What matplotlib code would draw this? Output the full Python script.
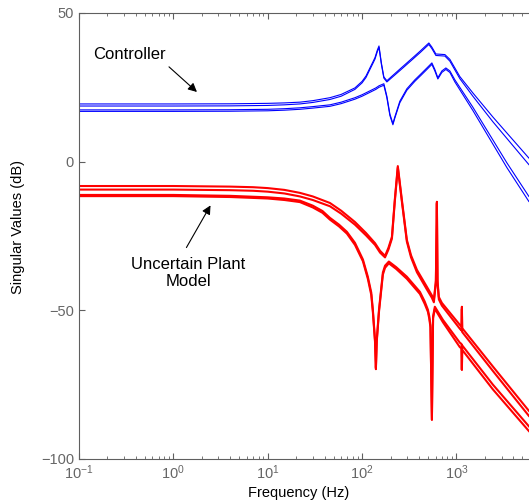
"""
Singular value plot of the controller and the uncertain plant model.
Values read off the reference figure (dB vs Hz).
"""

import numpy as np
import matplotlib.pyplot as plt

########################################################
# DATA

# Controller, upper pair of singular values
ctrl_a_freq = [0.1, 1, 4, 10, 15, 21.9, 30, 45.6, 60, 84, 100, 110, 121, 130, 137, 145, 151, 160, 170, 183,
               251, 321, 410, 486, 510, 549, 605, 680, 754, 851, 1086, 1492, 2432, 5850]
ctrl_a1_db = [19.4, 19.4, 19.45, 19.6, 19.75, 20.0, 20.5, 21.5, 22.6, 24.8, 27.0, 28.8, 31.5, 33.5, 35.0, 37.5, 38.9, 33.2, 28.5, 27.2,
              31.1, 34.1, 37.1, 39.3, 39.9, 38.5, 36.2, 36.1, 36.0, 34.4, 28.6, 23.1, 15.0, 1.2]
ctrl_a2_db = [18.7, 18.7, 18.75, 18.9, 19.1, 19.4, 19.9, 20.9, 22.0, 24.3, 26.5, 28.3, 31.0, 33.0, 34.5, 37.0, 38.4, 32.8, 28.1, 26.8,
              30.6, 33.6, 36.6, 38.8, 39.4, 38.0, 35.7, 35.6, 35.5, 33.8, 27.9, 22.0, 13.4, -1.0]

# Controller, lower pair of singular values
ctrl_b_freq = [0.1, 1, 4, 10, 15, 21.9, 30, 45.6, 60, 84, 100, 121, 140, 151, 170, 183, 197, 212, 222, 251,
               298, 362, 420, 486, 549, 590, 635, 700, 772, 851, 962, 1492, 3420, 5850]
ctrl_b1_db = [17.4, 17.4, 17.45, 17.6, 17.8, 18.1, 18.5, 19.1, 20.0, 21.5, 22.5, 23.8, 24.8, 25.5, 26.2, 22.0, 16.0, 12.8, 15.0, 20.3,
              24.5, 27.5, 29.5, 31.5, 33.2, 31.0, 28.2, 30.5, 31.5, 30.5, 27.5, 18.3, -0.4, -11.7]
ctrl_b2_db = [16.9, 16.9, 16.95, 17.1, 17.3, 17.6, 18.0, 18.6, 19.5, 21.0, 22.0, 23.3, 24.3, 25.0, 25.7, 21.5, 15.5, 12.4, 14.6, 19.8,
              24.0, 27.0, 29.0, 31.0, 32.7, 30.5, 27.8, 30.0, 31.0, 30.0, 26.8, 17.2, -2.0, -13.4]

# Uncertain plant, upper family
plant_a_freq = [0.1, 1, 4, 7, 10, 15, 21.9, 30, 45.6, 60, 84, 110, 137, 155, 175, 190, 207, 222, 239, 264,
                298, 330, 381, 486, 549, 576, 605, 620, 630, 650, 700, 1086, 1130, 1141, 1150, 2432, 5850]
plant_a1_db = [-8.2, -8.2, -8.4, -8.6, -8.9, -9.5, -10.5, -11.7, -13.9, -16.5, -20.3, -24.0, -27.4, -30.0, -31.7, -29.0, -25.3, -12.9, -1.5, -12.9,
               -26.3, -31.5, -36.4, -42.1, -45.0, -46.5, -40.0, -13.5, -40.0, -45.5, -47.5, -54.9, -55.5, -48.8, -56.0, -68.9, -83.8]
plant_a2_db = [-9.4, -9.4, -9.6, -9.8, -10.1, -10.7, -11.7, -12.9, -15.0, -17.5, -21.2, -24.8, -28.0, -30.6, -32.2, -29.6, -25.9, -13.5, -2.0, -13.5,
               -26.9, -32.2, -37.2, -43.0, -45.8, -47.3, -40.8, -14.0, -40.8, -46.3, -48.4, -56.2, -56.8, -49.5, -57.3, -70.4, -85.5]

# Uncertain plant, lower family
plant_b_freq = [0.1, 1, 4, 10, 15, 21.9, 30, 38, 45.6, 57, 69, 84, 102, 115, 125, 130, 137, 140, 143, 151,
                166, 175, 192, 230, 298, 410, 460, 498, 515, 530, 549, 565, 590, 718, 1086, 1130, 1141, 1150, 2432, 5850]
plant_b1_db = [-11.2, -11.2, -11.5, -12.0, -12.4, -13.1, -14.8, -16.6, -18.9, -21.2, -23.6, -27.3, -32.9, -38.7, -44.0, -49.8, -60.0, -69.3, -60.0, -49.8,
               -37.3, -35.0, -33.6, -35.5, -38.7, -43.8, -47.0, -49.8, -52.0, -55.0, -86.8, -52.0, -48.8, -53.2, -60.9, -61.3, -70.0, -61.8, -75.0, -89.0]
plant_b2_db = [-11.6, -11.6, -11.9, -12.4, -12.9, -13.6, -15.4, -17.2, -19.5, -21.8, -24.2, -28.0, -33.5, -39.4, -44.8, -50.5, -60.5, -69.8, -60.5, -50.5,
               -38.0, -35.7, -34.2, -36.1, -39.4, -44.5, -47.8, -50.5, -52.8, -55.7, -86.8, -52.7, -49.5, -54.0, -62.4, -62.8, -70.0, -63.3, -76.6, -90.6]

decades = [0.1, 1, 10, 100, 1000]

########################################################
# PLOTTING

plt.rcParams['font.family'] = ['Liberation Sans', 'DejaVu Sans']
plt.rcParams['mathtext.fontset'] = 'custom'
plt.rcParams['mathtext.rm'] = 'Liberation Sans'
plt.rcParams['mathtext.it'] = 'Liberation Sans:italic'

fig = plt.figure(figsize=(5.29, 5.04), dpi=100)
# axes runs off the right side of the picture, like the original
ax = fig.add_axes([0.1493, 0.0893, 0.892, 0.885])

blue = (0, 0, 1)
red = (1, 0, 0)

ax.semilogx(ctrl_a_freq, ctrl_a1_db, color=blue, lw=0.8)
ax.semilogx(ctrl_a_freq, ctrl_a2_db, color=blue, lw=0.8)
ax.semilogx(ctrl_b_freq, ctrl_b1_db, color=blue, lw=0.8)
ax.semilogx(ctrl_b_freq, ctrl_b2_db, color=blue, lw=0.8)

ax.semilogx(plant_a_freq, plant_a1_db, color=red, lw=1.5)
ax.semilogx(plant_a_freq, plant_a2_db, color=red, lw=1.5)
ax.semilogx(plant_b_freq, plant_b1_db, color=red, lw=1.5)
ax.semilogx(plant_b_freq, plant_b2_db, color=red, lw=1.5)

ax.set_xlim(0.1, 1e4)
ax.set_ylim(-100, 50)
ax.set_xticks(decades)
ax.set_yticks([-100, -50, 0, 50])

grey = '#5f5f5f'
for s in ax.spines.values():
    s.set_color(grey)
    s.set_linewidth(0.8)
ax.tick_params(which='both', direction='in', top=True, right=True,
               color=grey, labelcolor='#666666', labelsize=10.5)
ax.tick_params(which='major', length=4)
ax.tick_params(which='minor', length=2.5)

ax.set_xlabel('Frequency (Hz)', fontsize=10.5)
ax.set_ylabel('Singular Values (dB)', fontsize=10.5)
ax.xaxis.set_label_coords(0.466, -0.06)
ax.yaxis.set_label_coords(-0.114, 0.52)

# annotations
ax.text(0.339, 35.9, 'Controller', fontsize=12, ha='center', va='center')
ax.annotate('', xy=(1.87, 22.8), xytext=(0.855, 32.5),
            arrowprops=dict(arrowstyle='-|>', color='k', lw=0.8, mutation_scale=13))
ax.text(1.43, -37.4, 'Uncertain Plant\nModel', fontsize=12, ha='center', va='center')
ax.annotate('', xy=(2.56, -13.9), xytext=(1.33, -29.7),
            arrowprops=dict(arrowstyle='-|>', color='k', lw=0.8, mutation_scale=13))

plt.savefig('out.png', dpi=100)
